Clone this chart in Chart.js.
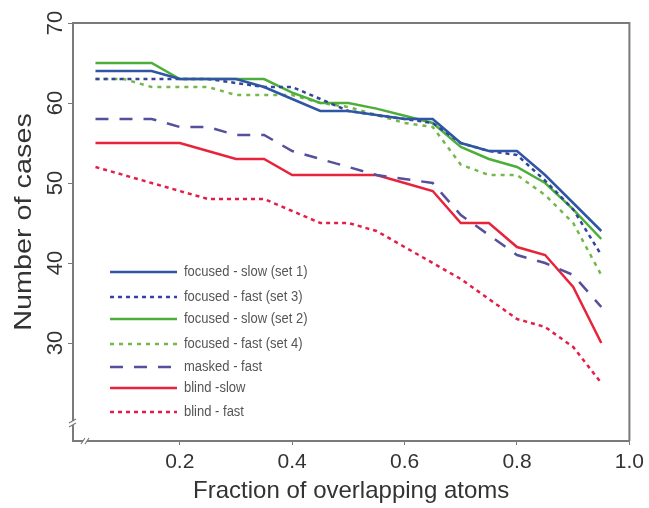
<!DOCTYPE html>
<html><head><meta charset="utf-8">
<script src="https://cdn.jsdelivr.net/npm/chart.js@4.4.1/dist/chart.umd.min.js"></script>
<style>html,body{margin:0;padding:0;background:#fff;}#wrap{width:649px;height:508px;position:relative;}</style>
</head><body><div id="wrap"><canvas id="c" width="649" height="508"></canvas></div>
<script>
const xValues = [0.05,0.10,0.15,0.20,0.25,0.30,0.35,0.40,0.45,0.50,0.55,0.60,0.65,0.70,0.75,0.80,0.85,0.90,0.95];
const focusedSlowSet1 = [64,64,64,63,63,63,62,60.5,59,59,58.5,58,58,55,54,54,51,47.5,44];
const focusedFastSet3 = [63,63,63,63,63,62.5,62,62,60.5,59,58.5,58,57.5,55,54,53.5,50.3,46.7,41];
const focusedSlowSet2 = [65,65,65,63,63,63,63,61.3,60,60,59.3,58.4,57.5,54.5,53,52,50,46.7,43];
const focusedFastSet4 = [63,63,62,62,62,61,61,61,60,59.5,58.5,57.5,57,52.3,51,51,48.5,45,38.5];
const maskedFast = [58,58,58,57,57,56,56,54,53,52,51,50.5,50,46,43.5,41,40,38.5,34.5];
const blindSlow = [55,55,55,55,54,53,53,51,51,51,51,50,49,45,45,42,41,37,30];
const blindFast = [52,51,50,49,48,48,48,46.5,45,45,44,42,40,38,35.5,33,32,29.5,25];
const seriesLabels = ['focused - slow (set 1)','focused - fast (set 3)','focused - slow (set 2)','focused - fast (set 4)','masked - fast','blind -slow','blind - fast'];
const xTicks = [0.2,0.4,0.6,0.8,1.0];
const yTicks = [30,40,50,60,70];
const xTitle = 'Fraction of overlapping atoms';
const yTitle = 'Number of cases';

const pts = arr => arr.map((v,i)=>({x:xValues[i], y:v}));
const mk = (label, data, color, dash, w) => ({label, data: pts(data), borderColor: color, backgroundColor: color, borderDash: dash, borderWidth: w, pointRadius: 0, tension: 0, fill: false, borderCapStyle: 'butt', borderJoinStyle: 'miter'});

const datasets = [
  mk(seriesLabels[0], focusedSlowSet1, '#2f55a4', [], 2.5),
  mk(seriesLabels[1], focusedFastSet3, '#33449c', [4,4], 2.5),
  mk(seriesLabels[2], focusedSlowSet2, '#4dae3a', [], 2.5),
  mk(seriesLabels[3], focusedFastSet4, '#74b74a', [4,5], 2.5),
  mk(seriesLabels[4], maskedFast, '#55509c', [13,11], 2.5),
  mk(seriesLabels[5], blindSlow, '#e8233c', [], 2.5),
  mk(seriesLabels[6], blindFast, '#e31f48', [4,4], 2.5)
];

const FONT = '"Liberation Sans", Arial, sans-serif';

const framePlugin = {
  id: 'frame',
  afterDraw(chart) {
    const {ctx, chartArea: a} = chart;
    ctx.save();
    ctx.strokeStyle = '#7a7a7a';
    ctx.lineWidth = 2;
    ctx.beginPath();
    ctx.moveTo(a.left, a.top); ctx.lineTo(a.right, a.top); ctx.lineTo(a.right, a.bottom);
    ctx.stroke();
    // axis breaks
    ctx.fillStyle = '#fff';
    ctx.fillRect(a.left - 3, a.bottom - 20, 6, 4);
    ctx.fillRect(a.left + 10, a.bottom - 3, 4, 6);
    ctx.strokeStyle = '#7a7a7a'; ctx.lineWidth = 1.2;
    ctx.beginPath();
    ctx.moveTo(a.left - 4, a.bottom - 18); ctx.lineTo(a.left + 3, a.bottom - 22);
    ctx.moveTo(a.left - 4, a.bottom - 14); ctx.lineTo(a.left + 3, a.bottom - 18);
    ctx.moveTo(a.left + 8, a.bottom + 3); ctx.lineTo(a.left + 12, a.bottom - 3);
    ctx.moveTo(a.left + 12, a.bottom + 3); ctx.lineTo(a.left + 16, a.bottom - 3);
    ctx.stroke();
    // y title (stretched along its length like the reference)
    ctx.save();
    ctx.translate(24, 222);
    ctx.rotate(-Math.PI / 2);
    ctx.scale(1.2, 1);
    ctx.font = '24px ' + FONT;
    ctx.fillStyle = '#333';
    ctx.textAlign = 'center';
    ctx.textBaseline = 'middle';
    ctx.fillText(yTitle, 0, 0);
    ctx.restore();
    // legend
    const ys = [272, 297, 319, 344, 367, 388, 412];
    ctx.font = '13px ' + FONT;
    ctx.textBaseline = 'middle';
    chart.data.datasets.forEach((ds, i) => {
      const y = ys[i];
      ctx.strokeStyle = ds.borderColor;
      ctx.lineWidth = ds.borderWidth;
      ctx.setLineDash(ds.borderDash);
      ctx.lineCap = 'butt';
      ctx.beginPath(); ctx.moveTo(110, y); ctx.lineTo(177, y); ctx.stroke();
      ctx.setLineDash([]);
      ctx.fillStyle = '#555';
      ctx.save();
      ctx.translate(184, y);
      ctx.scale(1, 1.15);
      ctx.fillText(ds.label, 0, 0);
      ctx.restore();
    });
    ctx.restore();
  }
};

new Chart(document.getElementById('c'), {
  type: 'line',
  data: { datasets },
  options: {
    responsive: false,
    animation: false,
    devicePixelRatio: 1,
    layout: { padding: { left: 0, top: 23, right: 17, bottom: 0 } },
    plugins: { legend: { display: false }, tooltip: { enabled: false } },
    scales: {
      x: {
        type: 'linear', min: 0.01, max: 1.0,
        afterBuildTicks: s => { s.ticks = xTicks.map(v => ({value: v})); },
        afterFit: s => { s.height = 67; },
        grid: { drawOnChartArea: false, color: '#7a7a7a', tickLength: 4 },
        border: { color: '#7a7a7a', width: 2 },
        ticks: { color: '#333', font: { family: FONT, size: 21 }, padding: 5, maxRotation: 0,
                 callback: v => Number(v).toFixed(1) },
        title: { display: true, text: xTitle, color: '#333',
                 font: { family: FONT, size: 24 }, padding: { top: 0, bottom: 2 } }
      },
      y: {
        type: 'linear', min: 17.75, max: 70,
        afterBuildTicks: s => { s.ticks = yTicks.map(v => ({value: v})); },
        afterFit: s => { s.width = 73; },
        grid: { drawOnChartArea: false, color: '#7a7a7a', tickLength: 5 },
        border: { color: '#7a7a7a', width: 2 },
        ticks: { color: '#333', font: { family: FONT, size: 22 }, padding: 0,
                 minRotation: 90, maxRotation: 90, crossAlign: 'center' },
        title: { display: false }
      }
    }
  },
  plugins: [framePlugin]
});
</script></body></html>
